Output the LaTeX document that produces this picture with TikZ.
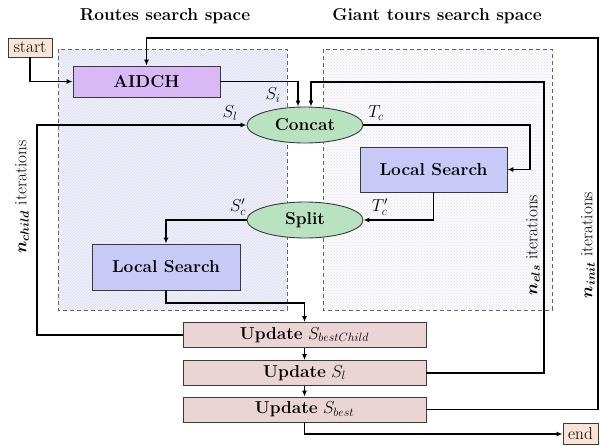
\documentclass[tikz,border=0pt]{standalone}
\usepackage{amsmath,amssymb}
\usetikzlibrary{arrows.meta,shapes.geometric,patterns}
\definecolor{startc}{HTML}{FBE4D5}
\definecolor{aidchc}{HTML}{D8B9F5}
\definecolor{ellc}{HTML}{B9E3C0}
\definecolor{lsc}{HTML}{C9C9F8}
\definecolor{updc}{HTML}{EBD4D4}
\definecolor{bordc}{HTML}{3A3A3A}
\definecolor{leftbg}{HTML}{F1F1FB}
\definecolor{leftpat}{HTML}{DCDCF2}
\definecolor{rightbg}{HTML}{FBFBFD}
\definecolor{rightpat}{HTML}{E2E2EE}
\begin{document}
\begin{tikzpicture}[x=1pt,y=-1pt,
  base/.style={draw=bordc,line width=0.9pt,inner sep=0pt,font=\LARGE},
  termbox/.style={base,fill=startc},
  aidbox/.style={base,fill=aidchc,font=\LARGE\bfseries},
  ellbox/.style={base,ellipse,fill=ellc,font=\LARGE\bfseries},
  lsbox/.style={base,fill=lsc,font=\LARGE\bfseries},
  updbox/.style={base,fill=updc,font=\LARGE,minimum width=243pt,minimum height=25pt},
  arr/.style={line width=1.2pt,-{Latex[length=6pt,width=5pt]}},
  lbl/.style={font=\LARGE,inner sep=0pt},
  title/.style={font=\LARGE\bfseries,inner sep=0pt},
  space/.style={draw=black!60,line width=0.9pt,dash pattern=on 4pt off 3pt}
]
\useasboundingbox (0,0) rectangle (601,445);

% search spaces
\fill[leftbg] (58,49) rectangle (287,310);
\fill[pattern=north east lines,pattern color=leftpat] (58,49) rectangle (287,310);
\draw[space] (58,49) rectangle (287,310);
\fill[rightbg] (323,49) rectangle (552,310);
\fill[pattern=crosshatch dots,pattern color=rightpat] (323,49) rectangle (552,310);
\draw[space] (323,49) rectangle (552,310);

\node[title] (t1) at (165,16) {Routes search space};
\node[title] (t2) at (437,16) {Giant tours search space};

% nodes
\node[termbox,minimum width=44pt,minimum height=19pt] (start) at (30,47.5) {start};
\node[aidbox,minimum width=147pt,minimum height=31pt] (aidch) at (146.5,81.5) {AIDCH};
\node[ellbox,minimum width=116pt,minimum height=36pt] (concat) at (305,125) {Concat};
\node[lsbox,minimum width=147pt,minimum height=45pt] (lsr) at (433.5,169.5) {Local Search};
\node[ellbox,minimum width=116pt,minimum height=36pt] (split) at (305,220) {Split};
\node[lsbox,minimum width=148pt,minimum height=46pt] (lsl) at (166,267) {Local Search};
\node[updbox] (upc) at (304.5,335) {\textbf{Update} $S_{bestChild}$};
\node[updbox] (upl) at (304.5,373) {\textbf{Update} $S_{l}$};
\node[updbox] (upb) at (304.5,409.5) {\textbf{Update} $S_{best}$};
\node[termbox,minimum width=35pt,minimum height=21pt] (end) at (580.5,434) {end};

% coordinates
\coordinate (cl) at (37,125);
\coordinate (tc) at (530,125);
\coordinate (els) at (544,82);
\coordinate (ini) at (598,38);
\coordinate (lsj) at (304.5,303);

% connectors
\draw[arr] (start.south) |- (aidch.west);
\draw[arr] (aidch.east) -| ([xshift=-7pt]concat.north);
\draw[arr] (upl.east) -| (els) -| ([xshift=6pt]concat.north);
\draw[arr] (upb.east) -| (ini) -| (aidch.north);
\draw[arr] (upc.west) -| (cl) -- (concat.west);
\draw[arr] (concat.east) -- (tc) |- (lsr.east);
\draw[arr] (lsr.south) |- (split.east);
\draw[arr] (split.west) -| (lsl.north);
\draw[arr] (lsl.south) |- (lsj) -- (upc.north);
\draw[arr] (upc.south) -- (upl.north);
\draw[arr] (upl.south) -- (upb.north);
\draw[arr] (upb.south) |- (end.west);

% labels
\node[lbl] (si) at (273,95) {$S_i$};
\node[lbl] (sl) at (230,113) {$S_l$};
\node[lbl] (tcl) at (376,113) {$T_c$};
\node[lbl] (scp) at (238,207) {$S_c'$};
\node[lbl] (tcp) at (380,207) {$T_c'$};

\node[lbl,rotate=90] (nchild) at (22,197) {$\boldsymbol{n_{child}}$ iterations};
\node[lbl,rotate=90] (nels) at (533,245) {$\boldsymbol{n_{els}}$ iterations};
\node[lbl,rotate=90] (ninit) at (588,245) {$\boldsymbol{n_{init}}$ iterations};
\end{tikzpicture}
\end{document}
